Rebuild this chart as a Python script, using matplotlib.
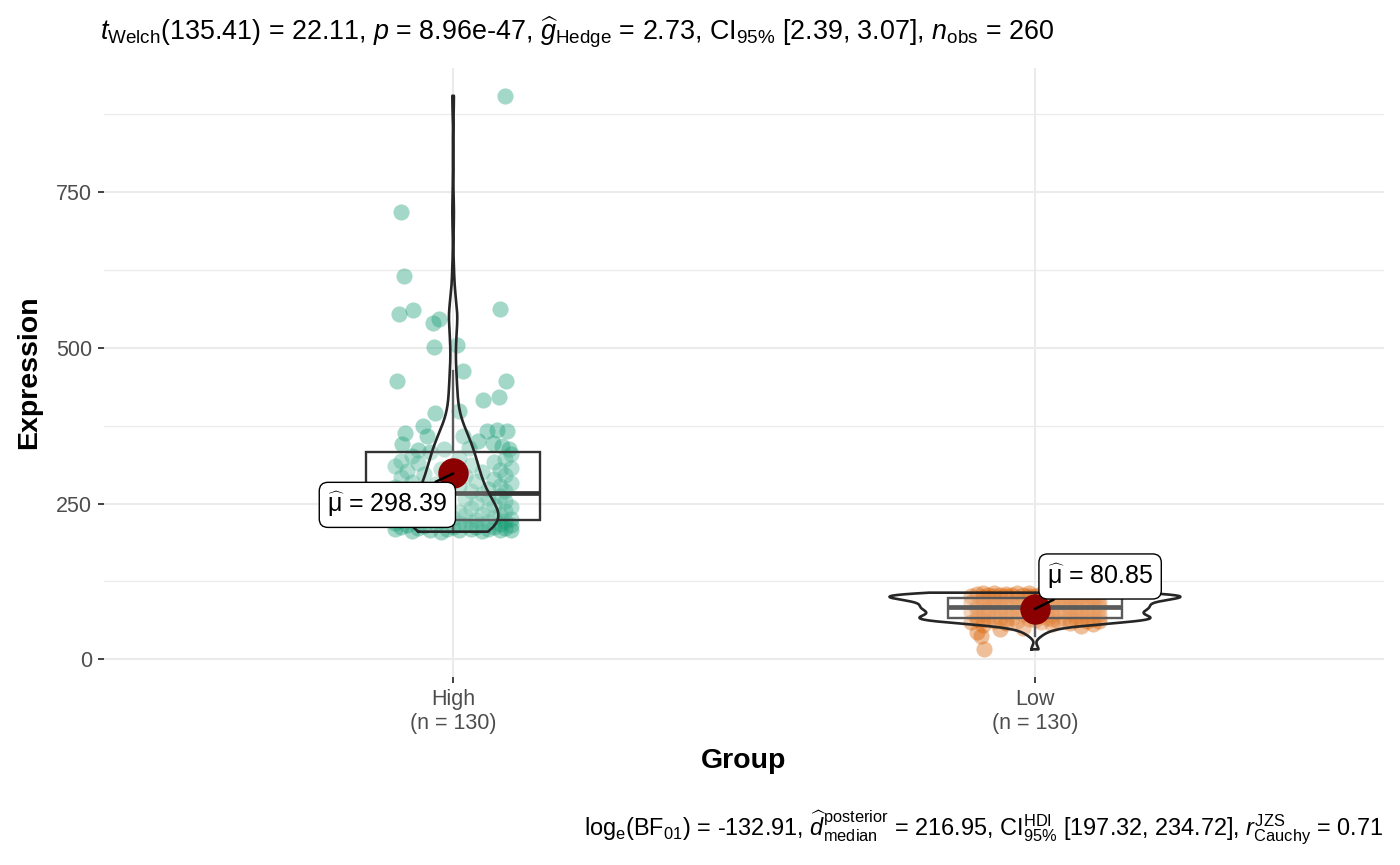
import numpy as np
import matplotlib
matplotlib.use('Agg')
import matplotlib.pyplot as plt

# values (Expression per sample)
high_expr = [905, 718, 616, 554, 561, 562, 540, 547, 501, 504, 463, 447, 447, 417, 422, 395,
             398, 363, 374, 358, 366, 369, 366, 350, 358, 347, 337, 345, 340, 336, 342, 338,
             205, 206, 206, 207, 207, 208, 208, 209, 209, 210, 210, 211, 211, 212, 212, 213,
             213, 214, 215, 215, 216, 217, 217, 218, 219, 219, 220, 221, 221, 222, 222, 223,
             224, 225, 226, 227, 228, 229, 230, 231, 232, 233, 234, 235, 236, 238, 239, 240,
             241, 243, 244, 245, 247, 248, 250, 251, 253, 254, 256, 258, 259, 261, 263, 265, 266,
             268, 270, 271, 273, 274, 276, 278, 279, 281, 283, 285, 286, 288, 290, 292, 294,
             296, 298, 300, 302, 304, 306, 308, 310, 312, 315, 317, 319, 321, 324, 327, 330, 333]
high_jitter = [0.089, -0.089, -0.084, -0.093, -0.069, 0.081, -0.034, -0.024, -0.033, 0.007, 0.017, -0.096,
               0.091, 0.052, 0.079, -0.031, 0.010, -0.082, -0.052, -0.045, 0.058, 0.076, 0.093, 0.043,
               0.017, 0.069, 0.096, -0.088, 0.028, -0.060, 0.084, -0.015,
               -0.02, 0.05, -0.07, 0.10, 0.01, -0.04, 0.08, -0.10, 0.03, 0.06, -0.01, -0.06, 0.09, 0.04,
               -0.09, 0.00, 0.07, -0.05, 0.02, 0.10, -0.08, 0.05, -0.03, 0.08, -0.10, 0.01, 0.06, -0.06,
               0.03, 0.09, -0.02, -0.09,
               0.04, -0.07, 0.10, 0.00, -0.04, 0.07, -0.10, 0.02, 0.08, -0.05, 0.05, -0.08, 0.01, 0.09,
               -0.03, -0.09, 0.06, 0.03, -0.06, 0.10, -0.01, 0.07, -0.10, 0.04, -0.04, 0.09, -0.07, 0.02,
               0.06, -0.09, 0.08, -0.02, 0.05,
               -0.08, 0.09, 0.03, -0.05, 0.06, -0.10, 0.01, 0.08, -0.03, 0.10, -0.07, 0.04, -0.01, 0.07,
               -0.09, 0.02, 0.09, -0.05, 0.05, -0.08, 0.08, -0.02, 0.10, -0.10, 0.03, -0.06, 0.07, -0.09,
               0.09, 0.01, -0.07, 0.10, -0.04]

low_expr = [16, 38, 44, 48, 51, 53, 55, 56, 57, 58, 59, 60, 60, 61, 61, 62, 62, 62, 63, 63, 63, 64,
            64, 64, 65, 65, 65, 65, 66, 66, 66, 66,
            67, 67, 68, 68, 69, 70, 70, 71, 72, 72, 73, 74, 74, 75, 75, 76, 76, 77, 77, 78, 78, 79,
            79, 80, 80, 81, 81, 82, 82, 82, 83, 83, 83,
            84, 84, 85, 85, 86, 86, 87, 87, 88, 88, 89, 89, 90, 90, 91, 91, 92, 92, 93, 93, 94, 94,
            95, 95, 96, 96, 97, 97, 98, 98, 99, 99, 99,
            100, 100, 100, 101, 101, 101, 101, 102, 102, 102, 102, 103, 103, 103, 103, 104, 104, 104,
            104, 104, 105, 105, 105, 105, 105, 106, 106, 106, 106, 107, 107, 107]
low_jitter = [-0.088, -0.092, -0.10, -0.060, -0.02, 0.08, -0.09, 0.03, 0.10, -0.05, 0.06, -0.11, 0.01,
              0.09, -0.07, 0.04, -0.03, 0.11, -0.09, 0.07, 0.00, -0.05, 0.10, 0.03, -0.10, 0.06, -0.01,
              0.08, -0.06, 0.02, 0.11, -0.08,
              0.05, -0.04, 0.09, -0.10, 0.01, 0.07, -0.07, 0.03, -0.02, 0.11, -0.09, 0.06, -0.05, 0.00,
              0.09, -0.11, 0.04, -0.03, 0.08, -0.08, 0.02, 0.10, -0.06, 0.05, -0.01, -0.10, 0.07, 0.03,
              -0.04, 0.11, -0.08, 0.06, 0.00,
              -0.06, 0.09, 0.02, -0.10, 0.06, -0.03, 0.11, -0.07, 0.01, 0.08, -0.05, 0.04, -0.09, 0.10,
              0.00, -0.04, 0.07, -0.11, 0.03, -0.07, 0.09, -0.02, 0.05, -0.09, 0.11, 0.01, -0.06, 0.07,
              -0.01, 0.10, -0.08, 0.04, -0.03,
              0.06, -0.09, 0.02, -0.05, 0.10, -0.01, 0.08, -0.07, 0.04, -0.11, 0.00, 0.09, -0.04, 0.06,
              -0.08, 0.02, 0.11, -0.06, 0.05, -0.02, -0.10, 0.08, 0.01, -0.05, 0.10, -0.03, 0.07, -0.09,
              0.03, -0.07, 0.09, -0.01]

groups = ['High', 'Low']
group_n = [130, 130]
group_means = [298.39, 80.85]
group_colors = ['#1B9E77', '#D95F02']

subtitle = (r'$t_{\mathrm{Welch}}$(135.41) = 22.11, $p$ = 8.96e-47, '
            r'$\widehat{g}_{\mathrm{Hedge}}$ = 2.73, CI$_{95\%}$ [2.39, 3.07], $n_{\mathrm{obs}}$ = 260')
caption = (r'log$_{\mathrm{e}}$(BF$_{01}$) = -132.91, '
           r'$\widehat{d}_{\mathrm{median}}^{\mathrm{posterior}}$ = 216.95, '
           r'CI$_{95\%}^{\mathrm{HDI}}$ [197.32, 234.72], '
           r'$r_{\mathrm{Cauchy}}^{\mathrm{JZS}}$ = 0.71')

plt.rcParams['font.family'] = ['Liberation Sans', 'DejaVu Sans']
plt.rcParams['mathtext.fontset'] = 'custom'
plt.rcParams['mathtext.rm'] = 'Liberation Sans'
plt.rcParams['mathtext.it'] = 'Liberation Sans:italic'
plt.rcParams['mathtext.bf'] = 'Liberation Sans:bold'


def bw_nrd0(x):
    q75, q25 = np.percentile(x, [75, 25])
    lo = min(np.std(x, ddof=1), (q75 - q25) / 1.34)
    return 0.9 * lo * len(x) ** -0.2


def kde(x, grid):
    bw = bw_nrd0(x)
    z = (grid[:, None] - x[None, :]) / bw
    return np.exp(-0.5 * z ** 2).sum(axis=1) / (len(x) * bw * np.sqrt(2 * np.pi))


fig = plt.figure(figsize=(14, 8.65), dpi=100)
ax = fig.add_axes([0.0743, 0.2173, 0.9143, 0.7040])

data = [np.array(high_expr, float), np.array(low_expr, float)]
jitter = [np.array(high_jitter), np.array(low_jitter)]
pos = [1, 2]

# grid
ax.set_yticks([0, 250, 500, 750])
ax.set_yticks([125, 375, 625, 875], minor=True)
ax.grid(True, which='major', color='#ebebeb', lw=1.5, zorder=0)
ax.grid(True, which='minor', axis='y', color='#ebebeb', lw=0.9, zorder=0)
ax.set_axisbelow(True)

# jittered points
for i in range(2):
    ax.scatter(pos[i] + jitter[i], data[i], s=135, color=group_colors[i], alpha=0.4,
               linewidths=0, zorder=2)

# boxes
ax.boxplot(data, positions=pos, widths=0.3, showfliers=False, showcaps=False,
           patch_artist=True, manage_ticks=False,
           boxprops=dict(facecolor=(1, 1, 1, 0.2), edgecolor='#333333', lw=1.7),
           whiskerprops=dict(color='#333333', lw=1.7),
           medianprops=dict(color='#333333', lw=3.4), zorder=3)

# violins, area scaled like ggplot
dens = []
grids = []
for d in data:
    g = np.linspace(d.min(), d.max(), 512)
    grids.append(g)
    dens.append(kde(d, g))
dmax = max(dd.max() for dd in dens)
for i in range(2):
    hw = 0.25 * dens[i] / dmax
    g = grids[i]
    ax.fill_betweenx(g, pos[i] - hw, pos[i] + hw, color='white', alpha=0.2, lw=0, zorder=4)
    xs = np.concatenate([pos[i] - hw, (pos[i] + hw)[::-1], [pos[i] - hw[0]]])
    ys = np.concatenate([g, g[::-1], [g[0]]])
    ax.plot(xs, ys, color='#262626', lw=1.9, zorder=5)

# means + labels
label_offsets = [(-0.113, 248), (0.112, 133)]
for i in range(2):
    ax.scatter(pos[i], group_means[i], s=480, color='#8B0000', zorder=6, linewidths=0)
    ax.annotate(r'$\widehat{\mathrm{\mu}}$' + ' = %.2f' % group_means[i],
                xy=(pos[i], group_means[i]),
                xytext=(pos[i] + label_offsets[i][0], label_offsets[i][1]),
                ha='center', va='center', fontsize=18, zorder=7,
                bbox=dict(boxstyle='round,pad=0.32,rounding_size=0.35', fc='white', ec='black', lw=1),
                arrowprops=dict(arrowstyle='-', color='black', lw=1.8, shrinkA=0, shrinkB=0))

ax.set_xlim(0.4, 2.6)
ax.set_ylim(-28.5, 949.5)
ax.set_xticks(pos)
ax.set_xticklabels(['%s\n(n = %d)' % (g, n) for g, n in zip(groups, group_n)], linespacing=1.2)
for s in ax.spines.values():
    s.set_visible(False)
ax.tick_params(axis='both', which='major', length=4.5, width=1.3, color='#333333',
               labelsize=15.5, labelcolor='#4d4d4d', pad=4)
ax.tick_params(axis='y', which='minor', length=0)
ax.set_xlabel('Group', fontsize=20.5, fontweight='bold', labelpad=10)
ax.set_ylabel('Expression', fontsize=20.5, fontweight='bold', labelpad=10)

fig.text(0.0714, 0.963, subtitle, fontsize=19.4, ha='left', va='center')
fig.text(0.988, 0.043, caption, fontsize=16.9, ha='right', va='center')

fig.savefig('out.png', dpi=100)
